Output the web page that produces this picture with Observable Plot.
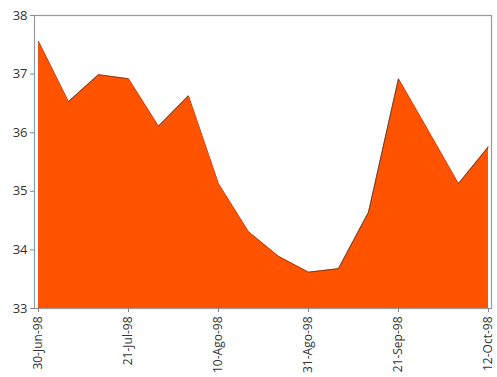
<!DOCTYPE html>
<html>
<head>
<meta charset="utf-8">
<script src="https://cdn.jsdelivr.net/npm/d3@7"></script>
<script src="https://cdn.jsdelivr.net/npm/@observablehq/plot@0.6"></script>
<style>
  html, body { margin: 0; padding: 0; background: #fff; }
  #chart { width: 497px; height: 377px; }
</style>
</head>
<body>
<div id="chart"></div>
<script>
// Weekly observations, June–October 1998
const fechas = [
  "30-Jun-98", "7-Jul-98", "14-Jul-98", "21-Jul-98", "28-Jul-98", "3-Ago-98",
  "10-Ago-98", "17-Ago-98", "24-Ago-98", "31-Ago-98", "7-Sep-98", "14-Sep-98",
  "21-Sep-98", "28-Sep-98", "5-Oct-98", "12-Oct-98"
];
const valores = [
  37.56, 36.53, 36.99, 36.92, 36.11, 36.63,
  35.13, 34.31, 33.89, 33.62, 33.68, 34.64,
  36.92, 36.03, 35.13, 35.76
];
const etiquetasX = ["30-Jun-98", "21-Jul-98", "10-Ago-98", "31-Ago-98", "21-Sep-98", "12-Oct-98"];
const ticksY = [33, 34, 35, 36, 37, 38];

const datos = fechas.map((f, i) => ({fecha: f, valor: valores[i]}));

const chart = Plot.plot({
  width: 497,
  height: 377,
  marginLeft: 34,
  marginRight: 6,
  marginTop: 15,
  marginBottom: 69,
  style: {fontFamily: "'Open Sans', sans-serif", fontSize: "12px", color: "#333", background: "#fff"},
  x: {type: "point", domain: fechas, padding: 0, label: null},
  y: {domain: [33, 38], label: null},
  marks: [
    Plot.areaY(datos, {x: "fecha", y1: 33, y2: "valor", fill: "#ff5300"}),
    Plot.lineY(datos, {x: "fecha", y: "valor", stroke: "#7a2e10", strokeWidth: 0.8}),
    Plot.frame({stroke: "#999", strokeWidth: 1.2}),
    Plot.axisX({ticks: etiquetasX, tickSize: 4, tickRotate: -90, tickPadding: 4, stroke: "#888", fontSize: 12, fill: "#333"}),
    Plot.axisY({ticks: ticksY, tickFormat: "d", tickSize: 4, tickPadding: 3, stroke: "#888", fontSize: 13, fill: "#333"})
  ]
});
document.getElementById("chart").appendChild(chart);
</script>
</body>
</html>
